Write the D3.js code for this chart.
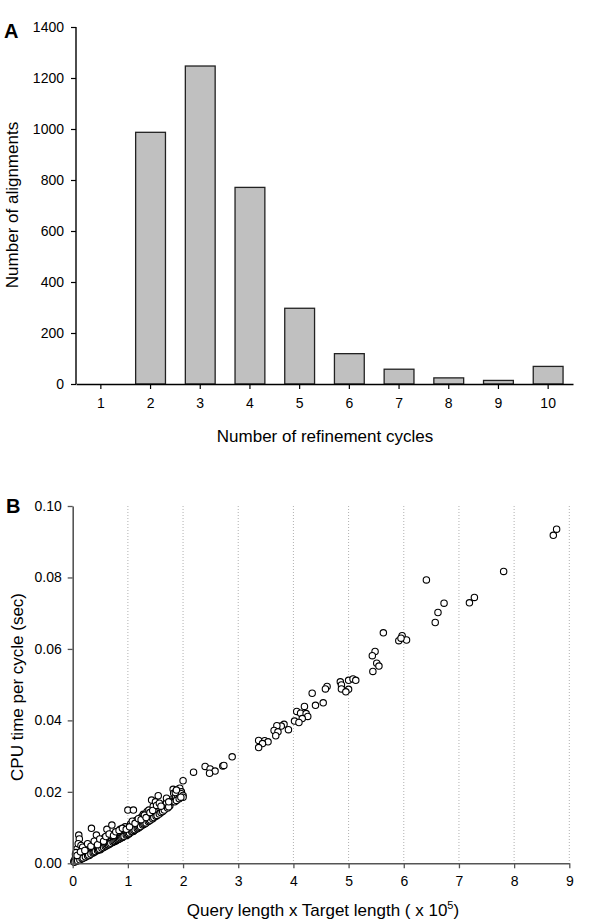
<!DOCTYPE html>
<html><head><meta charset="utf-8">
<script src="https://cdn.jsdelivr.net/npm/d3@7"></script>
<style>body{margin:0;background:#fff}svg{display:block}text{font-family:"Liberation Sans",Arial,sans-serif}</style>
</head><body>
<script>
// Panel A data
const cycles = ["1","2","3","4","5","6","7","8","9","10"];
const alignments = [0, 987, 1247, 771, 297, 119, 58, 24, 14, 69];
const yTicksA = [0, 200, 400, 600, 800, 1000, 1200, 1400];

// Panel B data: [query x target length (x1e5), CPU time per cycle (sec)]
const cpuPoints = [
[0.02,0.0005],[0.04,0.001],[0.05,0.0015],[0.06,0.0008],[0.08,0.0012],[0.1,0.002],[0.1,0.0009],[0.12,0.0015],[0.12,0.003],[0.14,0.0022],[0.15,0.0012],[0.16,0.0035],[0.18,0.0018],[0.2,0.0025],[0.2,0.0042],[0.22,0.0016],[0.24,0.003],[0.25,0.002],[0.26,0.0048],[0.28,0.0026],[0.3,0.0022],[0.3,0.0036],[0.05,0.0025],[0.08,0.004],[0.11,0.0079],[0.12,0.0068],[0.1,0.0055],[0.06,0.003],[0.15,0.005],[0.18,0.0045],
[0.32,0.0028],[0.34,0.0098],[0.35,0.004],[0.36,0.0032],[0.38,0.0055],[0.4,0.0035],[0.42,0.0045],[0.43,0.0079],[0.44,0.0038],[0.46,0.006],[0.48,0.0042],[0.5,0.005],[0.5,0.0038],[0.52,0.0065],[0.54,0.0045],[0.55,0.0055],[0.57,0.0048],[0.58,0.0072],[0.6,0.0052],[0.62,0.0095],[0.62,0.006],[0.64,0.0055],[0.66,0.0068],[0.68,0.0058],[0.7,0.0062],[0.71,0.0107],[0.7,0.0078],
[0.72,0.0058],[0.74,0.0065],[0.76,0.007],[0.78,0.0063],[0.8,0.0085],[0.8,0.0068],[0.82,0.0075],[0.84,0.0068],[0.86,0.0095],[0.86,0.0072],[0.88,0.008],[0.9,0.0072],[0.92,0.0088],[0.94,0.0078],[0.95,0.0102],[0.96,0.0082],[0.98,0.0078],[1.0,0.0085],[1.0,0.0149],[1.02,0.0082],[1.04,0.0092],[1.05,0.011],[1.06,0.0088],[1.08,0.0098],[1.1,0.0149],[1.1,0.009],[1.12,0.0105],[1.14,0.0095],[1.15,0.012],[1.16,0.0098],[1.18,0.0108],[1.2,0.0102],
[1.22,0.0112],[1.24,0.0105],[1.25,0.013],[1.26,0.0108],[1.28,0.0137],[1.3,0.0112],[1.32,0.0122],[1.34,0.0118],[1.35,0.0145],[1.36,0.012],[1.38,0.0149],[1.4,0.0125],[1.42,0.0135],[1.43,0.0177],[1.44,0.013],[1.46,0.016],[1.48,0.0135],[1.5,0.014],[1.5,0.0172],[1.52,0.0145],[1.55,0.0189],[1.55,0.015],[1.58,0.0155],[1.62,0.0154],[1.65,0.016],[1.68,0.0165],[1.7,0.017],[1.76,0.0161],[1.78,0.0177],[1.8,0.0172],[1.82,0.0207],[1.83,0.0196],[1.87,0.0187],[1.9,0.0182],[1.91,0.0207],[1.94,0.021],[1.94,0.0191],[1.97,0.02],[1.97,0.0195],[2.0,0.0231],[2.0,0.019],[2.0,0.0185],
// dense lower edge of the band
[0.03,0.0003],[0.07,0.0006],[0.09,0.0007],[0.13,0.001],[0.17,0.0013],[0.19,0.0015],[0.23,0.0018],[0.27,0.0021],[0.29,0.0023],[0.33,0.0026],[0.37,0.0029],[0.39,0.0031],[0.41,0.0033],[0.45,0.0036],[0.47,0.0038],[0.49,0.0039],[0.53,0.0042],[0.56,0.0044],[0.59,0.0047],[0.61,0.0049],[0.63,0.0051],[0.65,0.0052],[0.67,0.0054],[0.69,0.0056],[0.73,0.0059],[0.75,0.0061],[0.77,0.0062],[0.79,0.0064],[0.81,0.0066],[0.83,0.0067],[0.85,0.0069],[0.87,0.0071],[0.89,0.0072],[0.91,0.0074],[0.93,0.0076],[0.97,0.0079],[0.99,0.0081],[1.01,0.0083],[1.03,0.0085],[1.07,0.0088],[1.09,0.0089],[1.11,0.0092],[1.13,0.0094],[1.17,0.0097],[1.19,0.0099],[1.21,0.0101],[1.23,0.0103],[1.27,0.0107],[1.29,0.0109],[1.31,0.0111],[1.33,0.0113],[1.37,0.0117],[1.39,0.0119],[1.41,0.0121],[1.45,0.0125],[1.47,0.0128],[1.51,0.0132],[1.53,0.0134],[1.57,0.0138],[1.6,0.0142],[1.63,0.0145],[1.66,0.0149],[1.72,0.0155],[1.74,0.0158],[1.85,0.0172],[1.88,0.0176],[1.93,0.0181],[1.96,0.0185],
// extra scatter above the edge
[0.08,0.0022],[0.14,0.0032],[0.22,0.0036],[0.27,0.0055],[0.33,0.0048],[0.39,0.0062],[0.45,0.0052],[0.49,0.0068],[0.56,0.0062],[0.6,0.0075],[0.66,0.0082],[0.74,0.0078],[0.78,0.0088],[0.84,0.0092],[0.9,0.0098],[0.97,0.0095],[1.03,0.0102],[1.08,0.0118],[1.13,0.0112],[1.19,0.0125],[1.24,0.0122],[1.3,0.0135],[1.33,0.0128],[1.4,0.0142],[1.45,0.0148],[1.52,0.0162],[1.57,0.0168],[1.6,0.016],[1.7,0.0182],[1.74,0.0172],[1.86,0.0198],[1.88,0.0205],
[2.19,0.0255],[2.40,0.0271],[2.49,0.0264],[2.58,0.0258],[2.48,0.0252],[2.72,0.0272],[2.74,0.0274],[2.89,0.0298],
[3.37,0.0344],[3.48,0.0343],[3.54,0.034],[3.44,0.0335],[3.37,0.0324],
[3.83,0.0389],[3.78,0.0384],[3.70,0.0385],[3.91,0.0374],[3.65,0.0372],[3.72,0.0368],[3.68,0.0357],
[4.06,0.0425],[4.13,0.042],[4.23,0.0419],[4.26,0.0411],[4.16,0.0405],[4.02,0.0398],[4.10,0.0394],[4.20,0.0439],[4.40,0.0442],[4.54,0.0449],
[4.34,0.0476],[4.61,0.0495],[4.58,0.0488],[4.85,0.0508],[4.87,0.0499],[4.87,0.0488],[5.0,0.0487],[4.95,0.048],[5.0,0.0512],[5.08,0.0516],[5.13,0.0512],
[5.48,0.0593],[5.43,0.0581],[5.51,0.056],[5.55,0.0552],[5.44,0.0537],[5.63,0.0645],
[5.97,0.0637],[5.91,0.0623],[6.05,0.0625],[5.95,0.063],
[6.41,0.0793],[6.73,0.0728],[6.62,0.0702],[6.57,0.0674],
[7.28,0.0744],[7.19,0.0729],[7.81,0.0817],[8.77,0.0935],[8.71,0.0918]
];
const xTicksB = [0,1,2,3,4,5,6,7,8,9];
const yTicksB = [0, 0.02, 0.04, 0.06, 0.08, 0.10];

const W = 600, H = 921;
const FONT = '"Liberation Sans",Arial,sans-serif';
const svg = d3.select("body").append("svg").attr("width", W).attr("height", H);

// ---------- Panel A ----------
const xA = d3.scaleBand().domain(cycles).range([76, 573]).paddingInner(0.4).paddingOuter(0.2);
const yA = d3.scaleLinear().domain([0, 1400]).range([384, 27]);

const gA = svg.append("g");
gA.selectAll("rect.bar").data(cycles).enter().append("rect")
  .attr("class", "bar")
  .attr("x", d => xA(d))
  .attr("width", xA.bandwidth())
  .attr("y", (d, i) => yA(alignments[i]))
  .attr("height", (d, i) => yA(0) - yA(alignments[i]))
  .attr("fill", "#c0c0c0")
  .attr("stroke", "#222")
  .attr("stroke-width", 1.3)
  .style("display", (d, i) => alignments[i] > 0 ? null : "none");

const axAy = gA.append("g").attr("transform", "translate(76,0)")
  .call(d3.axisLeft(yA).tickValues(yTicksA).tickSize(5).tickPadding(7).tickFormat(d3.format("d")));
const axAx = gA.append("g").attr("transform", "translate(0,384)")
  .call(d3.axisBottom(xA).tickSize(5).tickPadding(9).tickSizeOuter(0));
[axAy, axAx].forEach(a => {
  a.select(".domain").attr("stroke", "#000").attr("stroke-width", 1.4);
  a.selectAll(".tick line").attr("stroke", "#000").attr("stroke-width", 1.2);
  a.selectAll("text").attr("font-size", 14).attr("fill", "#000").style("font-family", FONT);
});
axAy.select(".domain").attr("d", "M0,384V27");

gA.append("text").attr("x", 325).attr("y", 442).attr("text-anchor", "middle")
  .attr("font-size", 17).text("Number of refinement cycles");
gA.append("text").attr("transform", "translate(18,205) rotate(-90)").attr("text-anchor", "middle")
  .attr("font-size", 17).text("Number of alignments");
gA.append("text").attr("x", 4).attr("y", 38).attr("font-size", 20).attr("font-weight", "bold").text("A");

// ---------- Panel B ----------
const xB = d3.scaleLinear().domain([0, 9]).range([72.7, 569.3]);
const yB = d3.scaleLinear().domain([0, 0.10]).range([863.3, 506]);
const gB = svg.append("g");

gB.selectAll("line.grid").data(xTicksB.filter(d => d > 0)).enter().append("line")
  .attr("class", "grid")
  .attr("x1", d => xB(d)).attr("x2", d => xB(d))
  .attr("y1", yB(0.10)).attr("y2", yB(0))
  .attr("stroke", "#b0b0b0").attr("stroke-width", 1).attr("stroke-dasharray", "1,2");

gB.selectAll("circle").data(cpuPoints).enter().append("circle")
  .attr("cx", d => xB(d[0])).attr("cy", d => yB(d[1])).attr("r", 3.2)
  .attr("fill", "#fff").attr("stroke", "#000").attr("stroke-width", 1.1);

const axBy = gB.append("g").attr("transform", `translate(${xB(0)},0)`)
  .call(d3.axisLeft(yB).tickValues(yTicksB).tickSize(5).tickPadding(6).tickFormat(d3.format(".2f")).tickSizeOuter(0));
const axBx = gB.append("g").attr("transform", `translate(0,${yB(0)})`)
  .call(d3.axisBottom(xB).tickValues(xTicksB).tickSize(5).tickPadding(8).tickFormat(d3.format("d")).tickSizeOuter(0));
[axBy, axBx].forEach(a => {
  a.select(".domain").attr("stroke", "#555").attr("stroke-width", 1.6);
  a.selectAll(".tick line").attr("stroke", "#555").attr("stroke-width", 1.3);
  a.selectAll("text").attr("font-size", 14).attr("fill", "#000").style("font-family", FONT);
});

const xt = gB.append("text").attr("x", 323).attr("y", 916).attr("text-anchor", "middle").attr("font-size", 17);
xt.append("tspan").text("Query length x Target length ( x 10");
xt.append("tspan").attr("dy", -7).attr("font-size", 11).text("5");
xt.append("tspan").attr("dy", 7).text(")");
gB.append("text").attr("transform", "translate(23,687) rotate(-90)").attr("text-anchor", "middle")
  .attr("font-size", 17).text("CPU time per cycle (sec)");
gB.append("text").attr("x", 6).attr("y", 513).attr("font-size", 20).attr("font-weight", "bold").text("B");
</script>
</body></html>
